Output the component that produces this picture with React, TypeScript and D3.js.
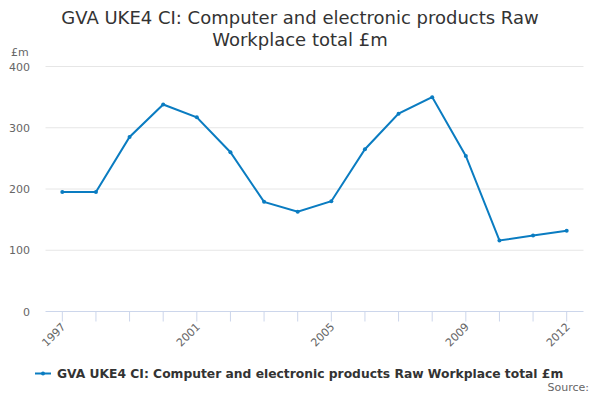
import React from "react";
import * as d3 from "d3";

const years = ["1997","1998","1999","2000","2001","2002","2003","2004","2005","2006","2007","2008","2009","2010","2011","2012"];
const values = [195, 195, 285, 338, 317, 260, 179, 163, 180, 265, 323, 350, 254, 116, 124, 132];
const yTicks = [0, 100, 200, 300, 400];
const xLabelYears = ["1997", "2001", "2005", "2009", "2012"];
const titleLines = ["GVA UKE4 CI: Computer and electronic products Raw", "Workplace total £m"];
const seriesName = "GVA UKE4 CI: Computer and electronic products Raw Workplace total £m";

const W = 600, H = 400;
const left = 45.5, right = 583.5, top = 66.5, bottom = 311.5;
const color = "#0a7cc1";
const font = "'DejaVu Sans', sans-serif";

export default function App() {
  const x = d3.scalePoint<string>().domain(years).range([left, right]).padding(0.5);
  const y = d3.scaleLinear().domain([0, 400]).range([bottom, top]);
  const line = d3.line<number>().x((_, i) => x(years[i])!).y((d) => y(d));
  return (
    <svg width={W} height={H} style={{ position: "absolute", left: 0, top: 0 }} fontFamily={font}>
      <rect width={W} height={H} fill="#fff" />
      {titleLines.map((t, i) => (
        <text key={i} x={300} y={24 + i * 22} textAnchor="middle" fontSize={18} fill="#333">{t}</text>
      ))}
      <text x={11} y={56} fontSize={11} fill="#666">£m</text>
      {yTicks.map((t) => (
        <g key={t}>
          <line x1={left} x2={right} y1={y(t)} y2={y(t)} stroke={t === 0 ? "#ccd6eb" : "#e6e6e6"} strokeWidth={1} />
          <text x={30} y={y(t) + 4} textAnchor="end" fontSize={11} fill="#666">{t}</text>
        </g>
      ))}
      {years.map((yr) => (
        <line key={yr} x1={x(yr)!} x2={x(yr)!} y1={bottom} y2={bottom + 10} stroke="#ccd6eb" />
      ))}
      {xLabelYears.map((yr) => (
        <text key={yr} transform={`translate(${x(yr)! + 4},${bottom + 16}) rotate(-45)`} textAnchor="end" fontSize={11} fill="#666">{yr}</text>
      ))}
      <path d={line(values)!} fill="none" stroke={color} strokeWidth={2} />
      {values.map((v, i) => (
        <circle key={i} cx={x(years[i])!} cy={y(v)} r={2} fill={color} />
      ))}
      <line x1={35} x2={51} y1={373.5} y2={373.5} stroke={color} strokeWidth={2} />
      <circle cx={43} cy={373.5} r={2} fill={color} />
      <text x={57} y={378} fontSize={12.3} fontWeight="bold" fill="#333">{seriesName}</text>
      <text x={589} y={391} textAnchor="end" fontSize={11} fill="#666">Source:</text>
    </svg>
  );
}
